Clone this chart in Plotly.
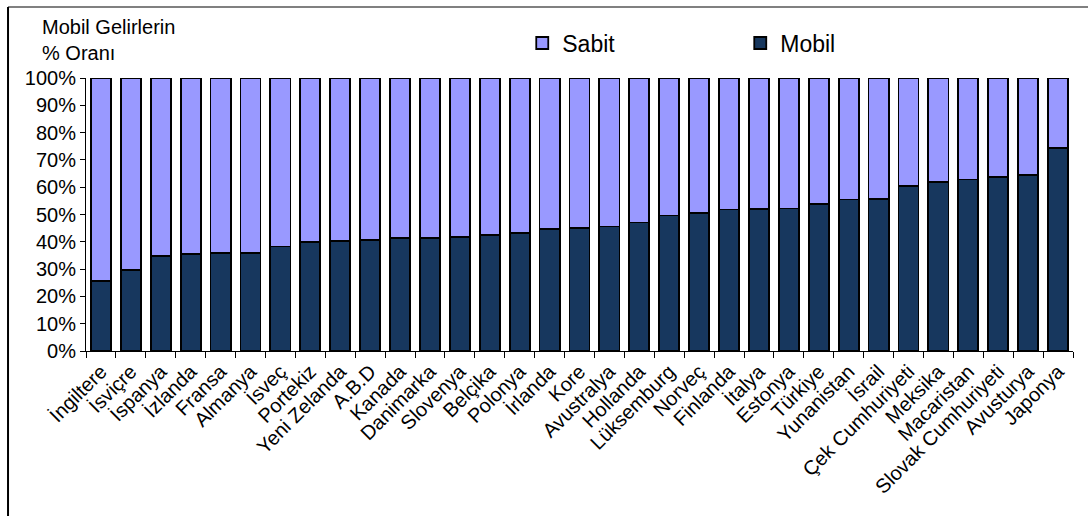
import plotly.graph_objects as go

# Share of telecom revenues by country (percent), sorted by mobile share
countries = [
    "İngiltere", "İsviçre", "İspanya", "İzlanda", "Fransa", "Almanya", "İsveç",
    "Portekiz", "Yeni Zelanda", "A.B.D", "Kanada", "Danimarka", "Slovenya",
    "Belçika", "Polonya", "İrlanda", "Kore", "Avustralya", "Hollanda",
    "Lüksemburg", "Norveç", "Finlanda", "İtalya", "Estonya", "Türkiye",
    "Yunanistan", "İsrail", "Çek Cumhuriyeti", "Meksika", "Macaristan",
    "Slovak Cumhuriyeti", "Avusturya", "Japonya",
]
mobil = [25.6, 29.7, 34.7, 35.4, 35.8, 35.8, 38.3, 39.9, 40.4, 40.7, 41.3,
         41.4, 41.9, 42.5, 43.3, 44.8, 45.1, 45.6, 47.1, 49.6, 50.5, 51.8,
         52.0, 52.2, 53.8, 55.5, 55.8, 60.5, 62.0, 62.8, 63.6, 64.6, 74.4]
sabit = [74.4, 70.3, 65.3, 64.6, 64.2, 64.2, 61.7, 60.1, 59.6, 59.3, 58.7,
         58.6, 58.1, 57.5, 56.7, 55.2, 54.9, 54.4, 52.9, 50.4, 49.5, 48.2,
         48.0, 47.8, 46.2, 44.5, 44.2, 39.5, 38.0, 37.2, 36.4, 35.4, 25.6]

FONT = "Arial, Liberation Sans, sans-serif"
outline = dict(color="black", width=1.8)

fig = go.Figure()
fig.add_trace(go.Bar(
    x=countries, y=[v / 100 for v in mobil], name="Mobil",
    marker=dict(color="#17375E", line=outline),
))
fig.add_trace(go.Bar(
    x=countries, y=[v / 100 for v in sabit], name="Sabit",
    marker=dict(color="#9999FF", line=outline),
))

fig.update_layout(
    barmode="stack",
    bargap=0.33,
    width=1088, height=517,
    margin=dict(l=86, r=15, t=78, b=166),
    paper_bgcolor="white", plot_bgcolor="white",
    font=dict(family=FONT, color="black", size=20),
    showlegend=True,
    legend=dict(
        orientation="h", traceorder="reversed",
        x=0.442, y=1.128, xanchor="left", yanchor="middle",
        font=dict(size=23), entrywidth=173, entrywidthmode="pixels",
        itemwidth=30, bgcolor="rgba(0,0,0,0)",
    ),
    xaxis=dict(
        showline=True, linecolor="black", linewidth=1,
        ticks="outside", tickson="boundaries", ticklen=6, tickcolor="black",
        tickangle=-45, tickfont=dict(size=20), showgrid=False,
    ),
    yaxis=dict(
        range=[0, 1], dtick=0.1, tickformat=".0%",
        showline=True, linecolor="black", linewidth=1,
        ticks="outside", ticklen=5, tickcolor="black",
        tickfont=dict(size=20), showgrid=False, zeroline=False,
    ),
    annotations=[dict(
        text="Mobil Gelirlerin<br>% Oranı", xref="paper", yref="paper",
        x=-0.047, y=1.236, xanchor="left", yanchor="top", align="left",
        showarrow=False, font=dict(size=20),
    )],
    shapes=[
        # outer frame: top edge and left edge
        dict(type="line", xref="paper", yref="paper", x0=-0.079, x1=1.02,
             y0=1.26, y1=1.26, line=dict(color="#808080", width=2)),
        dict(type="line", xref="paper", yref="paper", x0=-0.079, x1=-0.079,
             y0=1.26, y1=-0.604, line=dict(color="black", width=2)),
    ],
)

fig.write_html("out.html")
